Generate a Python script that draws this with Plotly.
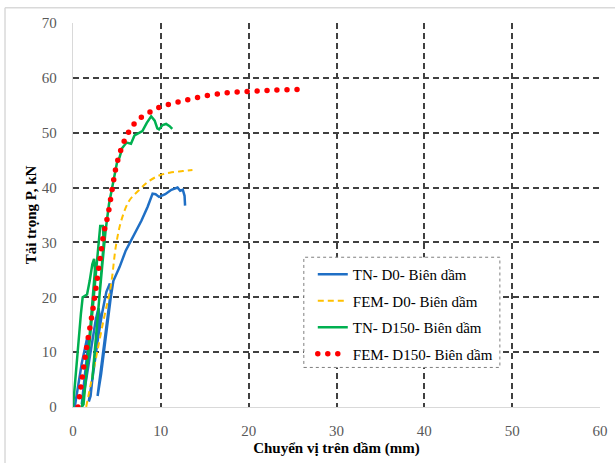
import plotly.graph_objects as go

# TN- D0- Biên dầm (experiment, blue)
tn_d0_x = [0.2, 0.6, 1.0, 1.4, 1.6, 1.7, 1.2, 1.0,
           1.3, 1.8, 2.2, 2.6, 2.9, 3.0, 2.4, 2.0, 1.8,
           2.2, 2.8, 3.3, 3.8, 4.2, 4.3, 3.6, 3.0, 2.8,
           3.2, 3.8, 4.3, 4.6, 5.3, 6.0, 7.0, 7.8, 8.5, 9.06, 9.4, 9.8,
           10.5, 11.2, 11.9, 12.2, 12.5, 12.7, 12.76]
tn_d0_y = [0.0, 4.0, 8.0, 11.0, 12.5, 11.0, 3.0, 0.5,
           3.0, 8.0, 12.0, 16.0, 18.0, 17.0, 8.0, 2.0, 1.0,
           5.0, 12.0, 17.0, 21.0, 22.5, 21.0, 12.0, 4.0, 2.0,
           6.0, 14.0, 20.0, 23.0, 25.5, 28.5, 31.6, 34.0, 36.5, 38.9, 38.8, 38.3,
           38.8, 39.6, 40.0, 39.4, 39.6, 38.5, 36.7]

# FEM- D0- Biên dầm (model, orange dashed)
fem_d0_x = [1.5, 2.5, 3.5, 4.3, 4.9, 5.5, 6.4, 7.5, 8.5, 9.8, 11.0, 12.5, 13.6]
fem_d0_y = [0.0, 8.0, 16.0, 22.0, 29.5, 34.0, 37.6, 39.5, 41.0, 42.2, 42.7, 43.0, 43.2]

# TN- D150- Biên dầm (experiment, green)
tn_d150_x = [0.0, 0.3, 0.6, 0.9, 1.1, 1.4, 1.6, 1.9, 2.2, 2.4, 2.5, 2.0, 1.5, 1.2, 1.0,
             1.4, 1.9, 2.3, 2.7, 2.9, 3.1, 3.4, 3.5, 3.0, 2.5, 2.2,
             2.6, 3.0, 3.4, 3.7, 4.1, 4.6, 5.0, 5.3, 5.6, 6.1, 6.6, 7.0, 7.9,
             8.4, 8.9, 9.3, 9.6, 9.8, 10.2, 10.6, 11.0, 11.3]
tn_d150_y = [0.0, 6.0, 12.0, 17.0, 20.0, 20.3, 20.5, 23.0, 26.0, 27.0, 25.0, 15.0, 5.0, 0.5, 0.0,
             4.0, 12.0, 19.0, 26.0, 30.0, 33.0, 33.0, 30.0, 20.0, 10.0, 5.0,
             12.0, 20.0, 27.0, 32.0, 37.0, 41.5, 44.5, 45.5, 47.2, 48.2, 48.0, 49.5, 50.3,
             51.8, 53.0, 52.2, 50.8, 50.6, 51.4, 51.6, 51.2, 50.7]

# FEM- D150- Biên dầm (model, red dots)
fem_d150_x = [0.57, 1.5, 2.3, 3.0, 3.5, 4.0, 4.5, 4.9, 5.5, 6.05, 6.8, 7.75, 8.7, 9.6,
              10.8, 13.0, 15.4, 17.7, 19.9, 22.2, 25.6]
fem_d150_y = [0.0, 10.3, 18.2, 26.1, 31.6, 35.2, 40.1, 43.7, 47.1, 49.2, 51.3, 52.8, 53.7, 54.5,
              55.1, 56.0, 56.8, 57.3, 57.5, 57.7, 57.9]

x_ticks = [0, 10, 20, 30, 40, 50, 60]
y_ticks = [0, 10, 20, 30, 40, 50, 60, 70]

names = ["TN- D0- Biên dầm", "FEM- D0- Biên dầm", "TN- D150- Biên dầm", "FEM- D150- Biên dầm"]

FONT = "Liberation Serif, Times New Roman, serif"

fig = go.Figure()
fig.add_trace(go.Scatter(x=tn_d0_x, y=tn_d0_y, mode="lines", name=names[0], legendgroup="a",
                         line=dict(color="#1F6FC5", width=2.5)))
fig.add_trace(go.Scatter(x=fem_d0_x, y=fem_d0_y, mode="lines", name=names[1], legendgroup="b",
                         line=dict(color="#FFC000", width=2, dash="6px,4px", shape="spline")))
fig.add_trace(go.Scatter(x=tn_d150_x, y=tn_d150_y, mode="lines", name=names[2], legendgroup="c",
                         line=dict(color="#00B050", width=2.5)))
fig.add_trace(go.Scatter(x=fem_d150_x, y=fem_d150_y, mode="lines", name=names[3], legendgroup="d",
                         line=dict(color="#FF0000", width=5.5, dash="0px,10px", shape="spline")))

grid = dict(showgrid=True, gridcolor="#404040", gridwidth=1.6, griddash="6px,4px",
            zeroline=False, showline=True, linecolor="#D9D9D9", linewidth=1.3,
            ticks="", automargin=False,
            tickfont=dict(family=FONT, size=15, color="#595959"))

fig.update_xaxes(range=[0, 60], tickvals=x_ticks, ticklabelstandoff=10,
                 title=dict(text="<b>Chuyển vị trên dầm (mm)</b>", standoff=4,
                            font=dict(family=FONT, size=15, color="#000000")),
                 **grid)
fig.update_yaxes(range=[0, 70], tickvals=y_ticks, ticklabelstandoff=12,
                 title=dict(text="<b>Tải trọng P, kN</b>", standoff=1,
                            font=dict(family=FONT, size=15, color="#000000")),
                 **grid)

fig.update_layout(
    width=615, height=463,
    margin=dict(l=73, r=15, t=23, b=56),
    paper_bgcolor="white", plot_bgcolor="white",
    font=dict(family=FONT, size=14, color="#000000"),
    showlegend=True,
    legend=dict(x=0.455, y=0.388, xanchor="left", yanchor="top",
                bgcolor="rgba(255,255,255,0)", borderwidth=0,
                font=dict(family=FONT, size=15, color="#000000"),
                tracegroupgap=4, itemwidth=30),
    shapes=[
        dict(type="rect", xref="paper", yref="paper", x0=0.438, x1=0.81, y0=0.103, y1=0.39,
             line=dict(color="#7F7F7F", width=1, dash="dot"), fillcolor="white", layer="above"),
        dict(type="line", xref="paper", yref="paper", x0=-0.129, x1=-0.129, y0=-0.2, y1=1.04,
             line=dict(color="#D9D9D9", width=1.5)),
        dict(type="line", xref="paper", yref="paper", x0=-0.129, x1=1.03, y0=1.04, y1=1.04,
             line=dict(color="#D9D9D9", width=1.5)),
    ],
)

post = """
function roundRed(){
  document.querySelectorAll('path').forEach(function(p){
    if(p.style.stroke==='rgb(255, 0, 0)'){p.style.strokeLinecap='round';}
  });
}
roundRed(); setTimeout(roundRed, 0); setTimeout(roundRed, 200);
"""
fig.write_html("out.html", post_script=post)
